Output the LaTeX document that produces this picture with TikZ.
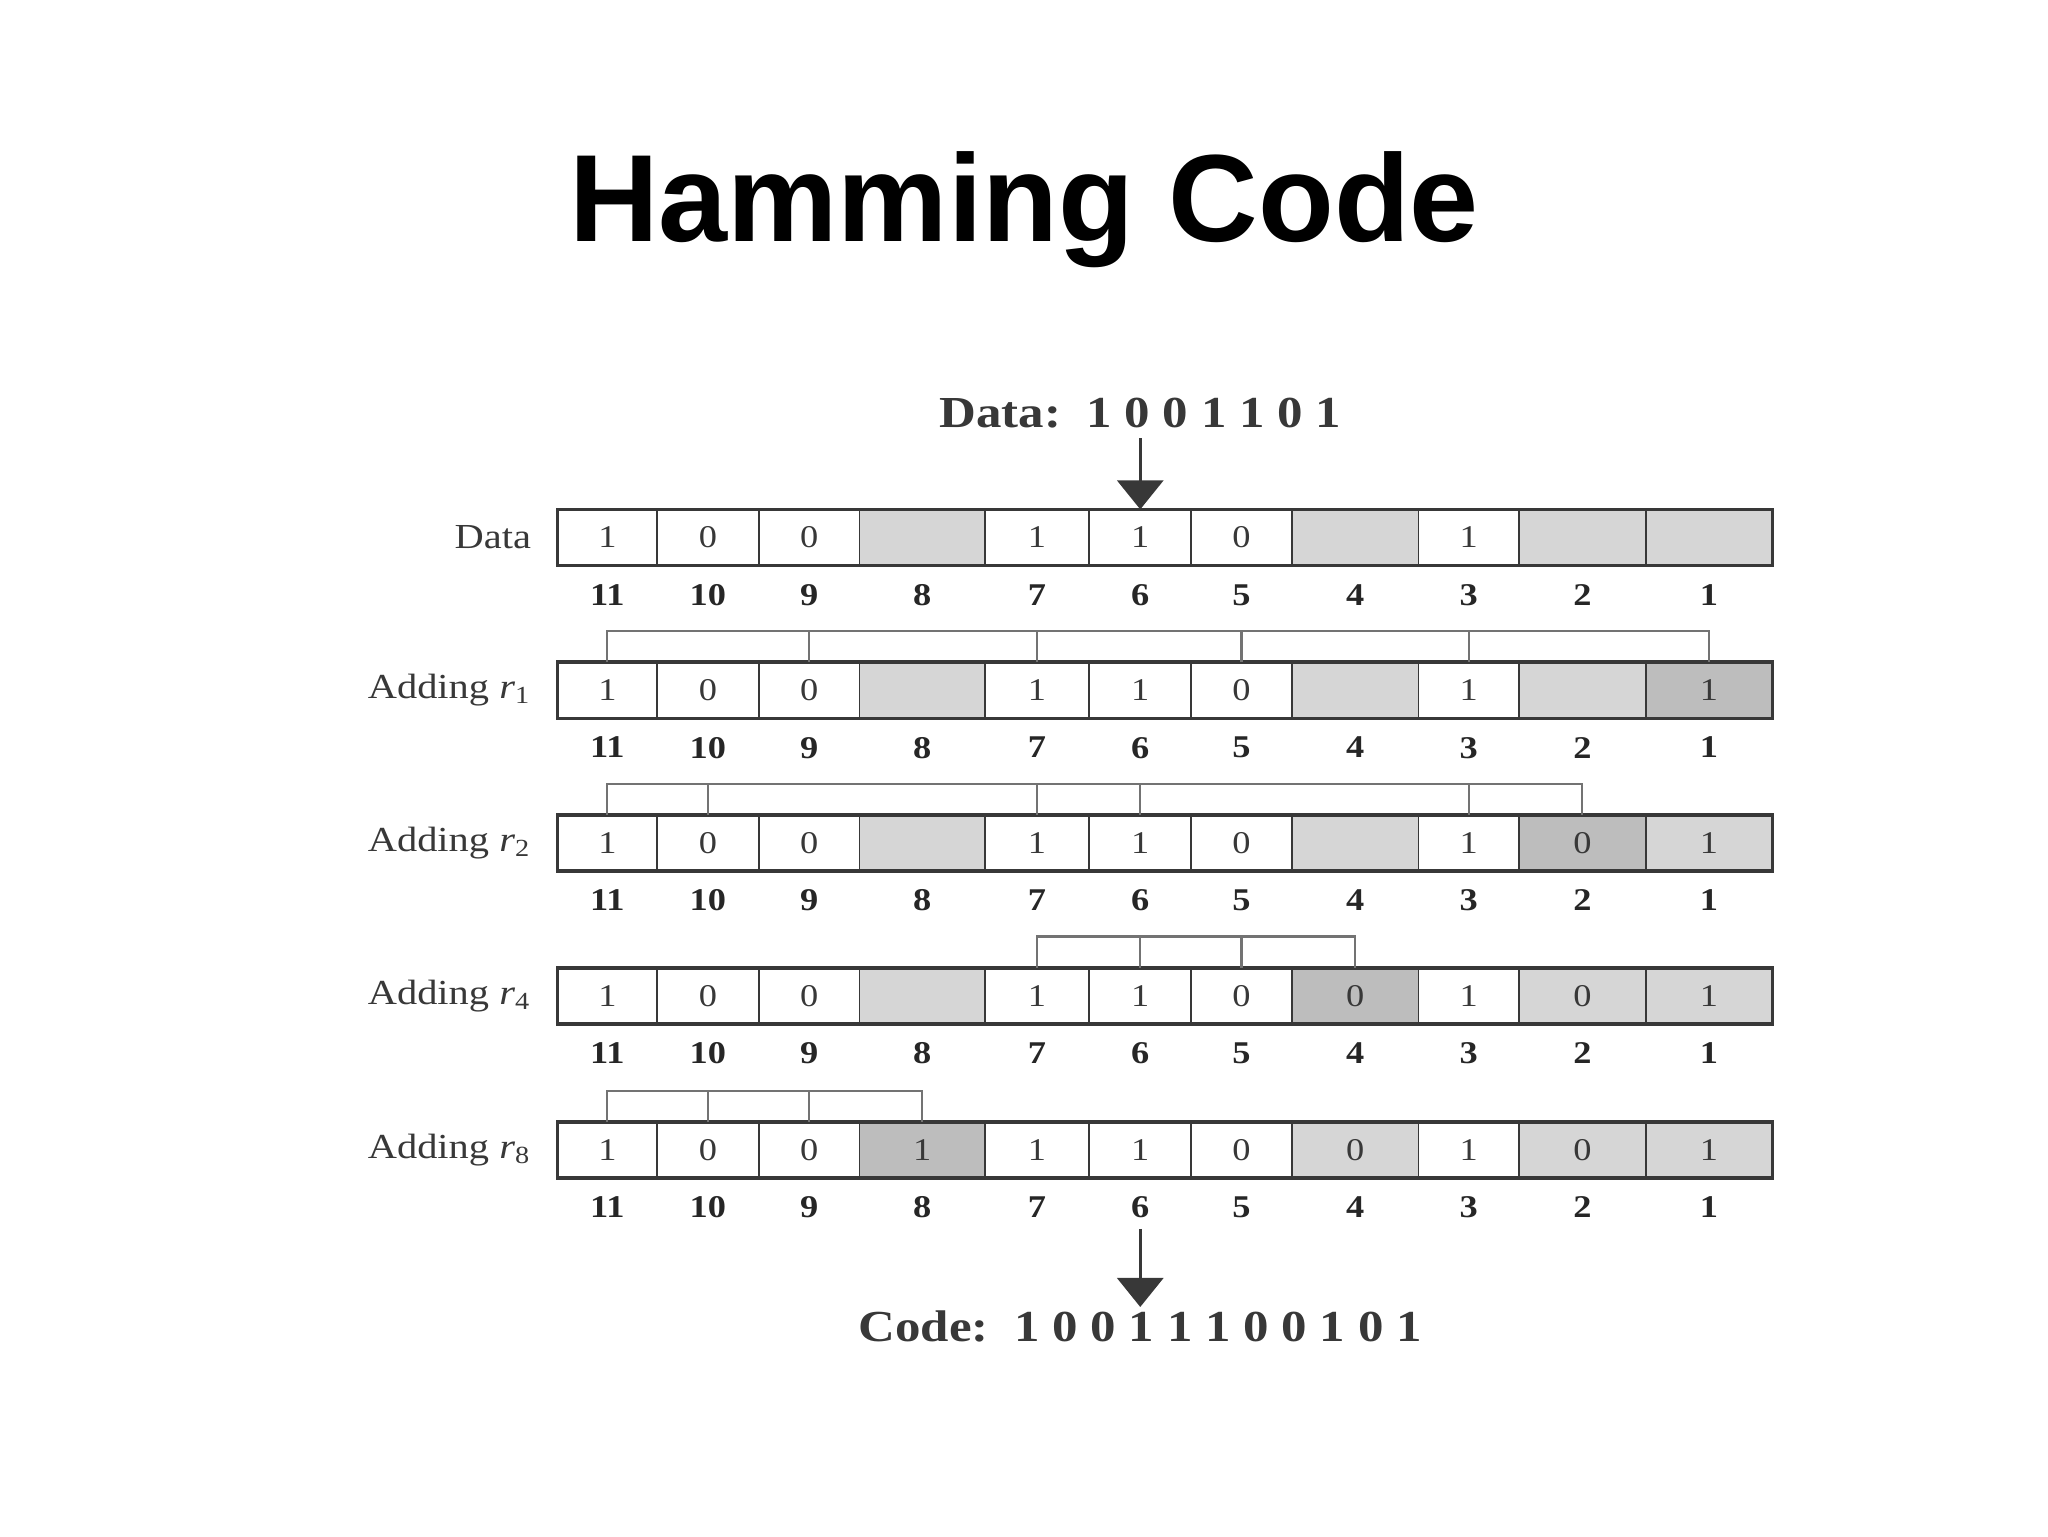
\documentclass[tikz,border=0pt]{standalone}
\usepackage{fontspec}
\setmainfont{Liberation Serif}
\newfontfamily\titlefont{Liberation Sans}
\newfontfamily\figfont[FakeStretch=1.15]{Liberation Serif}
\usetikzlibrary{positioning,arrows.meta}

\definecolor{lite}{gray}{0.84}
\definecolor{dark}{gray}{0.74}
\definecolor{ink}{gray}{0.22}

% left and right edge of each bit position (index = position)
\def\xleft{{0,1260,1163,1086,989,912,834,754,658,581,503,427}}
\def\xright{{0,1357,1260,1163,1086,989,912,834,754,658,581,503}}

\tikzset{
  cell/.style={draw=ink, line width=0.5pt, inner sep=0pt, outer sep=0pt,
    minimum height=5.62mm, text=ink, font=\figfont\fontsize{9}{9}\selectfont},
  posnum/.style={inner sep=0pt, text=black!85, font=\figfont\bfseries\fontsize{9}{9}\selectfont},
  rowlabel/.style={inner sep=0pt, text=ink, font=\figfont\fontsize{10}{10}\selectfont},
  frame/.style={draw=ink, line width=1pt},
  link/.style={draw=black!55, line width=0.6pt},
  bigtext/.style={inner sep=1mm, text=ink, font=\figfont\bfseries\fontsize{12.6}{13}\selectfont},
  bigarrow/.style={draw=ink, line width=0.9pt, -{Triangle[length=2.9mm,width=4.6mm]}},
}

% #1 row name, #2 top, #3 row label, #4 cells pos/value/fill
\newcommand{\bitrow}[4]{%
  \foreach \p/\v/\f in {#4} {
    \pgfmathsetmacro\xa{\xleft[\p]}
    \pgfmathsetmacro\xb{\xright[\p]}
    \node[cell, fill=\f, minimum width={(\xb-\xa)*0.1306mm}] (#1-\p) at ({(\xa+\xb)/2}, #2+21.5) {\v};
    \node[posnum, below=1.8mm of #1-\p] (#1-n\p) {\p};
  }
  \draw[frame] (#1-11.north west) rectangle (#1-1.south east);
  \node[rowlabel, left=2.6mm of #1-11] (#1-lab) {#3};
}

\begin{document}
\begin{tikzpicture}[x=0.1306mm, y=-0.1306mm]
  \useasboundingbox (0,0) rectangle (1568,1176);

  \node[anchor=base, font=\titlefont\bfseries\fontsize{35.3}{40}\selectfont] (title) at (784,185) {Hamming Code};

  \node[bigtext, anchor=base] (data) at (873,327) {Data:~~1 0 0 1 1 0 1};

  \bitrow{a}{390}{Data}{11/1/white, 10/0/white, 9/0/white, 8//lite, 7/1/white, 6/1/white, 5/0/white, 4//lite, 3/1/white, 2//lite, 1//lite}
  \bitrow{b}{507}{Adding \textit{r}\textsubscript{1}}{11/1/white, 10/0/white, 9/0/white, 8//lite, 7/1/white, 6/1/white, 5/0/white, 4//lite, 3/1/white, 2//lite, 1/1/dark}
  \bitrow{c}{624}{Adding \textit{r}\textsubscript{2}}{11/1/white, 10/0/white, 9/0/white, 8//lite, 7/1/white, 6/1/white, 5/0/white, 4//lite, 3/1/white, 2/0/dark, 1/1/lite}
  \bitrow{d}{741}{Adding \textit{r}\textsubscript{4}}{11/1/white, 10/0/white, 9/0/white, 8//lite, 7/1/white, 6/1/white, 5/0/white, 4/0/dark, 3/1/white, 2/0/lite, 1/1/lite}
  \bitrow{e}{859}{Adding \textit{r}\textsubscript{8}}{11/1/white, 10/0/white, 9/0/white, 8/1/dark, 7/1/white, 6/1/white, 5/0/white, 4/0/lite, 3/1/white, 2/0/lite, 1/1/lite}

  % parity groups
  \draw[link] (b-11.north) -- ++(0,-24) -| (b-1.north);
  \foreach \p in {9,7,5,3} \draw[link] (b-\p.north) -- ++(0,-24);
  \draw[link] (c-11.north) -- ++(0,-24) -| (c-2.north);
  \foreach \p in {10,7,6,3} \draw[link] (c-\p.north) -- ++(0,-24);
  \draw[link] (d-7.north) -- ++(0,-24) -| (d-4.north);
  \foreach \p in {6,5} \draw[link] (d-\p.north) -- ++(0,-24);
  \draw[link] (e-11.north) -- ++(0,-24) -| (e-8.north);
  \foreach \p in {10,9} \draw[link] (e-\p.north) -- ++(0,-24);

  \node[bigtext, anchor=base, inner sep=0.3mm] (code) at (873,1027) {Code:~~1 0 0 1 1 1 0 0 1 0 1};

  \draw[bigarrow] (data.south) -- (a-6.north);
  \draw[bigarrow, shorten <=1mm] (e-n6.south) -- (code.north);
\end{tikzpicture}
\end{document}
